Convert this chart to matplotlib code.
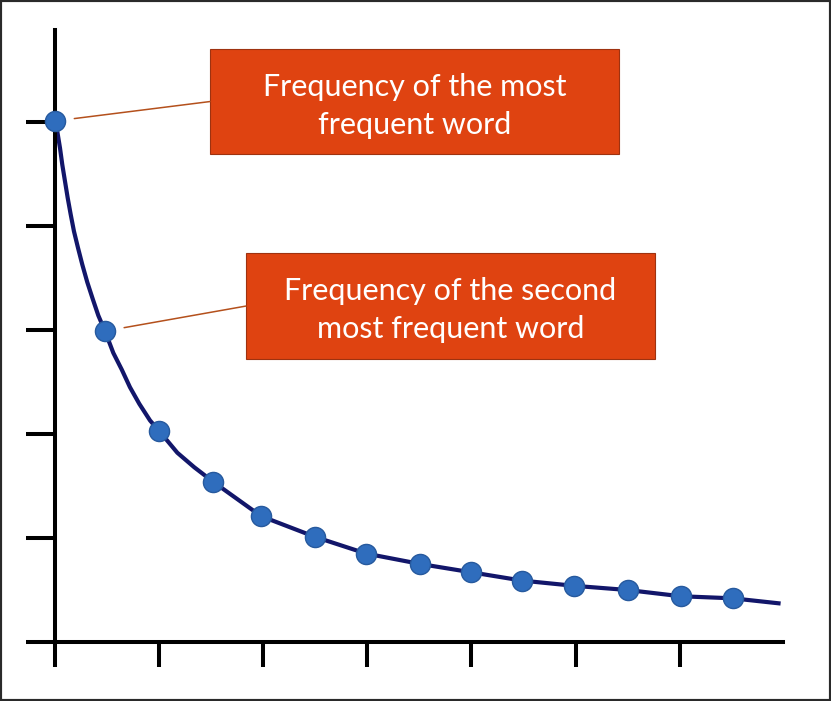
import matplotlib.pyplot as plt
from matplotlib.patches import Rectangle

# word rank positions (one x tick = two ranks) and frequencies, in tick units
rank_x = [0.0, 0.48, 1.00, 1.52, 1.98, 2.50, 2.99, 3.51, 4.00, 4.49, 4.99, 5.50, 6.01, 6.51]
freq_y = [5.01, 2.99, 2.03, 1.54, 1.21, 1.01, 0.85, 0.75, 0.67, 0.59, 0.54, 0.50, 0.44, 0.42]

# samples of the smooth curve
curve_x = [0.0, 0.022, 0.048, 0.070, 0.096, 0.122, 0.151, 0.182, 0.221, 0.262,
           0.310, 0.362, 0.416, 0.48, 0.560, 0.641, 0.720, 0.810, 0.913, 1.00,
           1.175, 1.338, 1.52, 1.98, 2.50, 2.99, 3.51, 4.00, 4.49, 4.99, 5.50,
           6.01, 6.51, 6.97]
curve_y = [5.01, 4.91, 4.75, 4.59, 4.43, 4.27, 4.11, 3.95, 3.79, 3.63,
           3.46, 3.30, 3.14, 2.99, 2.78, 2.62, 2.45, 2.29, 2.13, 2.03,
           1.82, 1.68, 1.54, 1.21, 1.01, 0.85, 0.75, 0.67, 0.59, 0.54, 0.50,
           0.44, 0.42, 0.37]

x_ticks = [0, 1, 2, 3, 4, 5, 6]
y_ticks = [0, 1, 2, 3, 4, 5]

labels = ['Frequency of the most\nfrequent word',
          'Frequency of the second\nmost frequent word']

box_color = '#DF4311'
lead_color = '#B4501C'

fig = plt.figure(figsize=(8.31, 7.01), dpi=100)
ax = fig.add_axes([55 / 831, 59 / 701, 728 / 831, 612 / 701])

ax.plot(curve_x, curve_y, color='#12166A', lw=3.0, solid_capstyle='butt',
        solid_joinstyle='round', clip_on=False, zorder=2)
ax.plot(rank_x, freq_y, 'o', ms=14.5, mfc='#2F6DBD', mec='#275A9E', mew=1.0,
        clip_on=False, zorder=3)

ax.set_xlim(0, 6.993)
ax.set_ylim(0, 5.885)
ax.set_xticks(x_ticks)
ax.set_yticks(y_ticks)
ax.set_xticklabels([])
ax.set_yticklabels([])
for s in ['top', 'right']:
    ax.spines[s].set_visible(False)
for s in ['left', 'bottom']:
    ax.spines[s].set_linewidth(2.9)
ax.tick_params(axis='x', direction='out', length=18, width=2.9)
ax.tick_params(axis='y', direction='out', length=21, width=2.9)

# callout boxes
boxes = [(1.489, 4.692, 3.929, 1.010), (1.835, 2.721, 3.929, 1.019)]
targets = [(rank_x[0], freq_y[0]), (rank_x[1], freq_y[1])]
for (bx, by, bw, bh), txt, tgt in zip(boxes, labels, targets):
    ax.add_patch(Rectangle((bx, by), bw, bh, fc=box_color, ec='#9E3210',
                           lw=0.8, zorder=4))
    ax.text(bx + bw / 2, by + bh / 2 - 0.04, txt, ha='center', va='center',
            color='white', fontsize=22, family='Lato', linespacing=1.42,
            zorder=5)
    ax.annotate('', xy=tgt, xytext=(bx, by + bh / 2),
                arrowprops=dict(arrowstyle='-', color=lead_color, lw=1.1,
                                shrinkA=0, shrinkB=14), zorder=4)

fig.add_artist(Rectangle((0, 0), 1, 1, transform=fig.transFigure, fill=False,
                         ec='#2a2a2a', lw=3))

fig.savefig('out.png', dpi=100)
